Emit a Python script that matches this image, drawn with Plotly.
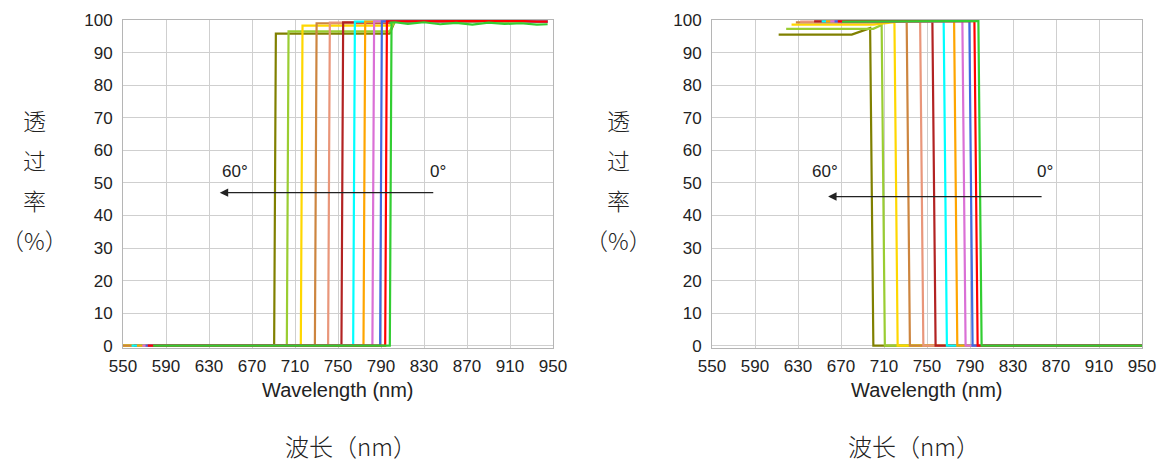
import plotly.graph_objects as go

W, H = 1159, 463

colors = ["#808000", "#9ACD32", "#FFD700", "#CD853F", "#E9967A", "#B22222",
          "#00FFFF", "#FFA500", "#DA70D6", "#4169E1", "#FF0000", "#32CD32"]

# ---- left chart (longpass, 60deg -> 0deg) ----
left_edge = [691.4, 703.2, 716.2, 729.3, 741.6, 754.0, 764.9, 774.5, 782.8, 790.0, 794.7, 799.0]
left_start = [550, 550, 550, 550, 560, 560, 558, 563, 568, 571, 573, 578]
left_top = [95.8, 96.5, 98.3, 99.0, 99.2, 99.3, 99.5, 99.5, 99.6, 99.6, 99.6, 99.2]
left_tail_x = [803, 815, 830, 845, 860, 875, 890, 905, 920, 935, 945]
left_tail_green = [99.3, 98.8, 99.3, 98.7, 99.1, 98.6, 99.2, 98.8, 99.0, 98.6, 98.7]
left_tail_other = [99.7, 99.6, 99.8, 99.6, 99.7, 99.6, 99.8, 99.6, 99.7, 99.5, 99.5]

# ---- right chart (shortpass, 60deg -> 0deg) ----
right_edge = [698.6, 709.3, 721.2, 732.6, 745.1, 756.5, 767.0, 776.7, 784.4, 790.9, 795.6, 799.3]
right_start = [612, 619, 624, 628, 632, 645, 652, 656, 660, 664, 667, 671]
right_knee = [680, 700, 700, 700, 700, 700, 700, 700, 700, 700, 700, 700]
right_lvl0 = [95.5, 97.3, 98.6, 99.3, 99.5, 99.6, 99.6, 99.6, 99.6, 99.6, 99.6, 99.5]
right_lvl1 = [97.5, 98.5, 99.3, 99.6, 99.6, 99.7, 99.7, 99.7, 99.7, 99.7, 99.7, 99.7]

x_ticks = [550, 590, 630, 670, 710, 750, 790, 830, 870, 910, 950]
y_ticks = [0, 10, 20, 30, 40, 50, 60, 70, 80, 90, 100]

fig = go.Figure()

for i, c in enumerate(colors):
    e = left_edge[i]
    tail = left_tail_green if i == len(colors) - 1 else left_tail_other
    xs = [left_start[i], e - 0.8, e + 0.8, 798] + left_tail_x
    ys = [0, 0, left_top[i], left_top[i]] + tail
    fig.add_trace(go.Scatter(x=xs, y=ys, mode="lines", line=dict(color=c, width=2.2),
                             xaxis="x", yaxis="y", showlegend=False, hoverinfo="skip"))

for i, c in enumerate(colors):
    e = right_edge[i]
    xs = [right_start[i], right_knee[i], e - 1.5, e + 1.5, 950]
    ys = [right_lvl0[i], right_lvl0[i], right_lvl1[i], 0, 0]
    fig.add_trace(go.Scatter(x=xs, y=ys, mode="lines", line=dict(color=c, width=2.2),
                             xaxis="x2", yaxis="y2", showlegend=False, hoverinfo="skip"))

FONT = "Liberation Sans, Arial, sans-serif"
tickfont = dict(family=FONT, size=17, color="#222222")
ax_common = dict(showgrid=True, gridcolor="#cfcfcf", gridwidth=1, showline=True,
                 linecolor="#b5b5b5", linewidth=1, mirror=True, zeroline=False,
                 tickfont=tickfont, ticks="", fixedrange=True, automargin=False)

# plot-area pixel geometry
L, R, T, B = 123, 1142, 20, 348.3
IW, IH = R - L, B - T

def dom_x(a, b):
    return [(a - L) / IW, (b - L) / IW]

yrange = [-0.7, 100]
fig.update_layout(
    width=W, height=H,
    margin=dict(l=L, r=W - R, t=T, b=H - B, autoexpand=False),
    paper_bgcolor="white", plot_bgcolor="white",
    xaxis=dict(domain=dom_x(123, 553), range=[550, 950], tickvals=x_ticks,
               ticklabelstandoff=3, anchor="y", **ax_common),
    yaxis=dict(domain=[0, 1], range=yrange, tickvals=y_ticks,
               ticklabelstandoff=6, anchor="x", **ax_common),
    xaxis2=dict(domain=dom_x(712, 1142), range=[550, 950], tickvals=x_ticks,
                ticklabelstandoff=3, anchor="y2", **ax_common),
    yaxis2=dict(domain=[0, 1], range=yrange, tickvals=y_ticks,
                ticklabelstandoff=6, anchor="x2", **ax_common),
)

def paper_xy(xc, yc):
    return (xc - L) / IW, (B - yc) / IH

ann = []
cjk = "Noto Sans CJK SC"
for xc in [34, 618]:
    for ch, yc in zip(["透", "过", "率", "（%）"], [120, 160, 200, 240]):
        xp, yp = paper_xy(xc, yc)
        ann.append(dict(x=xp, y=yp, xref="paper", yref="paper", text=ch,
                        showarrow=False, xanchor="center", yanchor="middle",
                        font=dict(family=cjk, size=23, color="#222222", weight=300)))

for xc, xc2 in [(338, 351), (927, 914)]:
    xp, yp = paper_xy(xc, 390)
    ann.append(dict(x=xp, y=yp, xref="paper", yref="paper",
                    text="Wavelength (nm)", showarrow=False, xanchor="center", yanchor="middle",
                    font=dict(family=FONT, size=20, color="#222222")))
    xp, yp = paper_xy(xc2, 446)
    ann.append(dict(x=xp, y=yp, xref="paper", yref="paper",
                    text="波长（nm）", showarrow=False, xanchor="center", yanchor="middle",
                    font=dict(family=cjk, size=24, color="#222222", weight=300)))

# arrows and angle labels
for xr, yr, x0, x1, ya, t60, t0, yt in [("x", "y", 840, 640, 47, 654, 843, 53.5),
                                        ("x2", "y2", 858, 658, 45.8, 655, 860, 53.5)]:
    ann.append(dict(x=x1, y=ya, ax=x0, ay=ya, xref=xr, yref=yr, axref=xr, ayref=yr,
                    text="", showarrow=True, arrowhead=2, arrowsize=1.3, arrowwidth=1.3,
                    arrowcolor="#222222"))
    ann.append(dict(x=t60, y=yt, xref=xr, yref=yr, text="60°", showarrow=False,
                    font=dict(family=FONT, size=17, color="#222222")))
    ann.append(dict(x=t0, y=yt, xref=xr, yref=yr, text="0°", showarrow=False,
                    font=dict(family=FONT, size=17, color="#222222")))

fig.update_layout(annotations=ann)
fig.write_html("out.html")
